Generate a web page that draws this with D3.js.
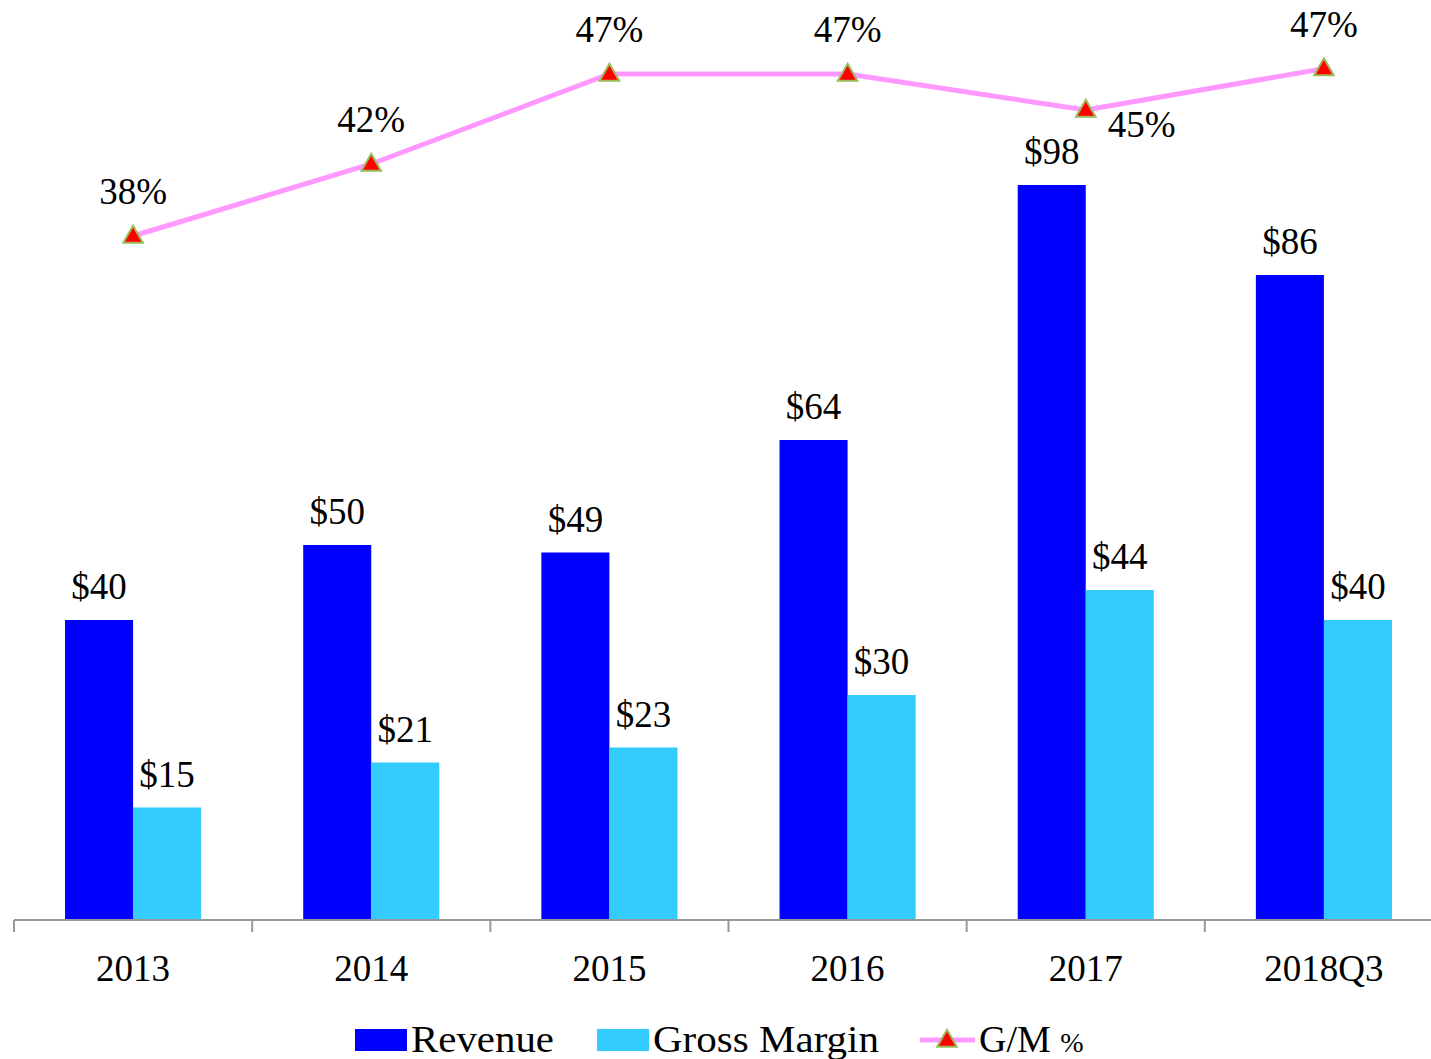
<!DOCTYPE html>
<html>
<head>
<meta charset="utf-8">
<script src="https://cdn.jsdelivr.net/npm/d3@7"></script>
<style>
  body { margin: 0; background: #fff; }
  text { font-family: "Liberation Serif", "Times New Roman", serif; fill: #000; }
</style>
</head>
<body>
<div id="chart"></div>
<script>
const categories = ["2013", "2014", "2015", "2016", "2017", "2018Q3"];
const revenue = [40, 50, 49, 64, 98, 86];
const grossMargin = [15, 21, 23, 30, 44, 40];
const gmPct = [0.38, 0.42, 0.47, 0.47, 0.45, 0.473];
const seriesNames = ["Revenue", "Gross Margin"];

const width = 1431;
const height = 1059;
const baseY = 920;

const colors = { "Revenue": "#0000ff", "Gross Margin": "#33ccff" };
const lineColor = "#ff99ff";

const svg = d3.select("#chart")
    .append("svg")
    .attr("width", width)
    .attr("height", height);

const x0 = d3.scaleBand()
    .domain(categories)
    .range([14, 1443])
    .padding(0);

const x1 = d3.scaleBand()
    .domain(seriesNames)
    .range([0, x0.bandwidth()])
    .paddingInner(0)
    .paddingOuter(0.75);

const y = d3.scaleLinear().domain([0, 120]).range([baseY, 20]);
const yPct = d3.scaleLinear().domain([0, 0.5]).range([baseY, 20]);

const rows = categories.map((c, i) => ({
    cat: c,
    values: [
        { key: "Revenue", value: revenue[i] },
        { key: "Gross Margin", value: grossMargin[i] }
    ]
}));

// bars
const groups = svg.selectAll(".grp")
    .data(rows)
    .enter()
    .append("g")
    .attr("transform", d => `translate(${x0(d.cat)},0)`);

groups.selectAll("rect")
    .data(d => d.values)
    .enter()
    .append("rect")
    .attr("x", d => x1(d.key))
    .attr("y", d => y(d.value))
    .attr("width", x1.bandwidth())
    .attr("height", d => baseY - y(d.value))
    .attr("fill", d => colors[d.key]);

groups.selectAll(".val")
    .data(d => d.values)
    .enter()
    .append("text")
    .attr("x", d => x1(d.key) + x1.bandwidth() / 2)
    .attr("y", d => y(d.value) - 21)
    .attr("text-anchor", "middle")
    .style("font-size", "37px")
    .text(d => "$" + d.value);

// axis
const axis = svg.append("g")
    .attr("transform", `translate(0,${baseY})`);

axis.append("line")
    .attr("x1", 14).attr("x2", width)
    .attr("y1", 0).attr("y2", 0)
    .attr("stroke", "#999").attr("stroke-width", 2);

axis.selectAll(".tick")
    .data(categories.concat(["end"]))
    .enter()
    .append("line")
    .attr("x1", (d, i) => 14 + i * x0.step())
    .attr("x2", (d, i) => 14 + i * x0.step())
    .attr("y1", 0).attr("y2", 12)
    .attr("stroke", "#999").attr("stroke-width", 2);

axis.selectAll(".lbl")
    .data(categories)
    .enter()
    .append("text")
    .attr("x", d => x0(d) + x0.bandwidth() / 2)
    .attr("y", 61)
    .attr("text-anchor", "middle")
    .style("font-size", "37px")
    .text(d => d);

// line
const cx = (d, i) => x0(categories[i]) + x0.bandwidth() / 2;

const line = d3.line()
    .x(cx)
    .y(d => yPct(d));

svg.append("path")
    .datum(gmPct)
    .attr("d", line)
    .attr("fill", "none")
    .attr("stroke", lineColor)
    .attr("stroke-width", 5);

const tri = d3.symbol().type(d3.symbolTriangle).size(165);

svg.selectAll(".mark")
    .data(gmPct)
    .enter()
    .append("path")
    .attr("d", tri)
    .attr("transform", (d, i) => `translate(${cx(d, i)},${yPct(d) + 1})`)
    .attr("fill", "#ff0000")
    .attr("stroke", "#9bbb59")
    .attr("stroke-width", 2);

const isDip = (i) => i > 0 && i < gmPct.length - 1 &&
    gmPct[i] < gmPct[i - 1] && gmPct[i] < gmPct[i + 1];

svg.selectAll(".pct")
    .data(gmPct)
    .enter()
    .append("text")
    .attr("x", (d, i) => cx(d, i) + (isDip(i) ? 56 : 0))
    .attr("y", (d, i) => yPct(d) + (isDip(i) ? 27 : -32))
    .attr("text-anchor", "middle")
    .style("font-size", "37px")
    .text(d => Math.round(d * 100) + "%");

// legend
const legend = svg.append("g").attr("transform", "translate(0,1040)");

legend.append("rect").attr("x", 355).attr("y", -11).attr("width", 52).attr("height", 22).attr("fill", colors["Revenue"]);
legend.append("text").attr("x", 411).attr("y", 12).style("font-size", "38px")
    .attr("textLength", 143).attr("lengthAdjust", "spacingAndGlyphs").text("Revenue");

legend.append("rect").attr("x", 597).attr("y", -11).attr("width", 52).attr("height", 22).attr("fill", colors["Gross Margin"]);
legend.append("text").attr("x", 653).attr("y", 12).style("font-size", "38px")
    .attr("textLength", 226).attr("lengthAdjust", "spacingAndGlyphs").text("Gross Margin");

legend.append("line").attr("x1", 920).attr("x2", 975).attr("y1", 0).attr("y2", 0)
    .attr("stroke", lineColor).attr("stroke-width", 5);
legend.append("path").attr("d", tri).attr("transform", "translate(947,1)")
    .attr("fill", "#ff0000").attr("stroke", "#9bbb59").attr("stroke-width", 2);
const gmText = legend.append("text").attr("x", 979).attr("y", 12).style("font-size", "38px");
gmText.append("tspan").text("G/M ");
gmText.append("tspan").style("font-size", "28px").text("%");
</script>
</body>
</html>
